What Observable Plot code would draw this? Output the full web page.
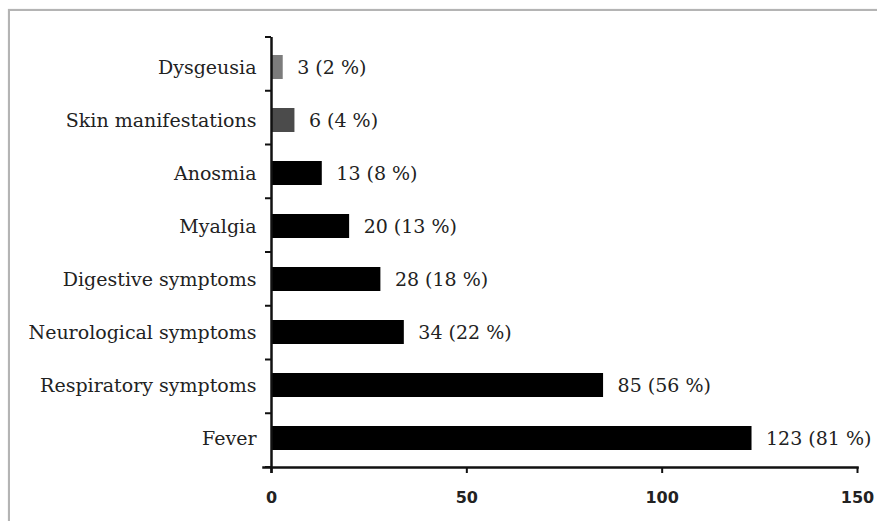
<!DOCTYPE html>
<html>
<head>
<meta charset="utf-8">
<script src="https://cdn.jsdelivr.net/npm/d3@7"></script>
<script src="https://cdn.jsdelivr.net/npm/@observablehq/plot@0.6"></script>
<style>
  html, body { margin: 0; padding: 0; background: #fff; overflow: hidden; }
  #wrap { position: relative; width: 877px; height: 521px; }
  #border { position: absolute; left: 8px; top: 9px; width: 900px; height: 600px;
            border: 2px solid #b4b4b4; box-shadow: 0 0 1px #ccc; }
  #chart { position: absolute; left: 0; top: 0; }
</style>
</head>
<body>
<div id="wrap"><div id="border"></div><div id="chart"></div></div>
<script>
const categories = ["Dysgeusia", "Skin manifestations", "Anosmia", "Myalgia", "Digestive symptoms", "Neurological symptoms", "Respiratory symptoms", "Fever"];
const counts = [3, 6, 13, 20, 28, 34, 85, 123];
const percents = [2, 4, 8, 13, 18, 22, 56, 81];
const xTicks = [0, 50, 100, 150];

const data = categories.map((c, i) => ({cat: c, count: counts[i], pct: percents[i]}));

const W = 877, H = 521, mT = 37, mB = 54, mL = 271, mR = 20;
const serif = "'DejaVu Serif', 'Liberation Serif', serif";

const barFill = d => d.cat === "Dysgeusia" ? "#7c7c7c" : d.cat === "Skin manifestations" ? "#4b4b4b" : "#000";

// boundary ticks between bands, derived from the band layout
const bandTicks = (index, scales, values, dims) => {
  const g = d3.create("svg:g");
  const n = scales.y.domain().length;
  const step = (dims.height - dims.marginTop - dims.marginBottom) / n;
  const x0 = scales.x(0);
  for (let i = 0; i <= n; i++) {
    const yy = dims.marginTop + i * step;
    g.append("line").attr("x1", x0 - 6).attr("x2", x0).attr("y1", yy).attr("y2", yy)
      .attr("stroke", "#111").attr("stroke-width", 2);
  }
  return g.node();
};

const chart = Plot.plot({
  width: W, height: H,
  marginTop: mT, marginBottom: mB, marginLeft: mL, marginRight: mR,
  x: {domain: [0, 150]},
  y: {domain: categories, paddingInner: 0.55, paddingOuter: 0.275},
  style: {background: "transparent"},
  marks: [
    Plot.barX(data, {x: "count", y: "cat", fill: barFill}),
    Plot.text(data, {x: "count", y: "cat", text: d => `${d.count} (${d.pct} %)`, textAnchor: "start", dx: 14,
      fontSize: 19, fontFamily: serif, fill: "#222"}),
    Plot.axisY({tickSize: 0, tickPadding: 15, fontSize: 19, fontFamily: serif, fill: "#222", label: null}),
    Plot.axisX({ticks: xTicks, tickSize: 6, tickPadding: 18, fontSize: 16, fontWeight: "bold",
      fontFamily: "'DejaVu Sans', sans-serif", fill: "#222", stroke: "#111", strokeWidth: 2, label: null}),
    Plot.ruleX([0], {stroke: "#111", strokeWidth: 2.5, insetBottom: -6}),
    Plot.frame({anchor: "bottom", stroke: "#111", strokeWidth: 2.5, insetLeft: -8}),
    bandTicks
  ]
});
document.getElementById("chart").appendChild(chart);
</script>
</body>
</html>
